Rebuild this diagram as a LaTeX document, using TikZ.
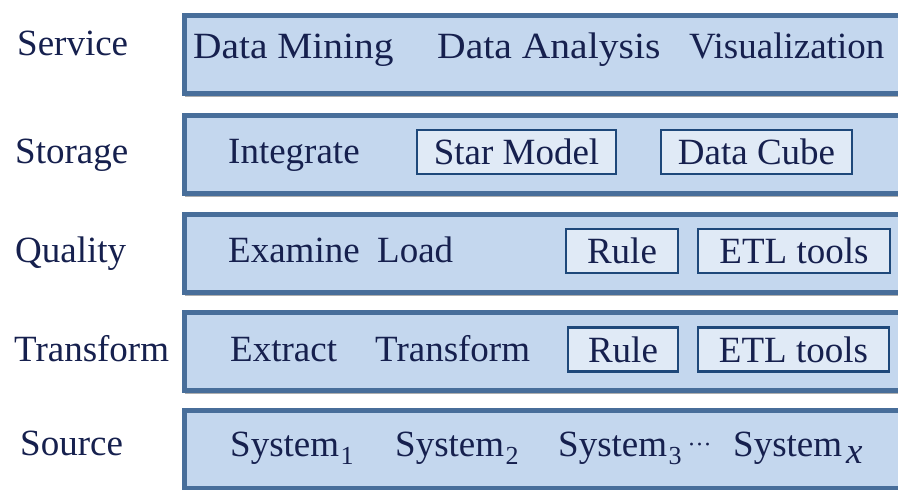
\documentclass[tikz,border=0pt]{standalone}
\usepackage{fontspec}
\setmainfont{Liberation Serif}
\usetikzlibrary{shadows}
\definecolor{bandfill}{RGB}{196,215,238}
\definecolor{bandline}{RGB}{72,110,154}
\definecolor{boxline}{RGB}{30,72,122}
\definecolor{boxfill}{RGB}{224,234,246}
\definecolor{txt}{RGB}{22,32,78}
\newcommand{\mysub}[1]{\kern1.5pt\raisebox{-0.22em}{\fontsize{26}{26}\selectfont #1}}
\tikzset{
  band/.style={draw=bandline, line width=5pt, fill=bandfill, rectangle, anchor=north west,
    minimum width=740pt, minimum height=78pt, inner sep=0pt,
    drop shadow={shadow xshift=1pt, shadow yshift=-4pt, opacity=0.45, fill=black!70}},
  lbl/.style={font=\fontsize{37}{40}\selectfont, text=txt, inner sep=0pt, anchor=base west},
  ibox/.style={draw=boxline, line width=2.5pt, fill=boxfill, rectangle, inner sep=0pt,
    minimum height=44pt, font=\fontsize{37}{40}\selectfont, text=txt}
}
\begin{document}
\begin{tikzpicture}[x=1pt,y=-1pt]
\useasboundingbox (0,0) rectangle (898,490);
\clip (0,0) rectangle (898,490);
\fill[white] (0,0) rectangle (898,490);
% bands
\node[band] (svc) at (181.5,12.5) {};
\node[band] (sto) at (181.5,112.5) {};
\node[band] (qua) at (181.5,211.5) {};
\node[band] (tra) at (181.5,309.5) {};
\node[band] (src) at (181.5,407.5) {};
% left labels
\node[lbl] (lsvc) at (17,55) {Service};
\node[lbl] (lsto) at (15,163) {Storage};
\node[lbl] (lqua) at (15,262) {Quality};
\node[lbl] (ltra) at (14,361) {Transform};
\node[lbl] (lsrc) at (20,455) {Source};
% service row
\node[lbl] (dm) at (193,58) {\scalebox{1.065}[1]{Data Mining}};
\node[lbl] (da) at (437,58) {\scalebox{1.07}[1]{Data Analysis}};
\node[lbl] (vis) at (689,58) {Visualization};
% storage row
\node[lbl] (integ) at (228,163) {Integrate};
\node[ibox, minimum width=199pt] (star) at (516.5,152) {Star Model};
\node[ibox, minimum width=191pt] (cube) at (756.5,152) {Data Cube};
% quality row
\node[lbl] (exam) at (228,262) {Examine};
\node[lbl] (load) at (377,262) {Load};
\node[ibox, minimum width=112pt] (qrule) at (622,251) {Rule};
\node[ibox, minimum width=192pt] (qetl) at (794,251) {ETL tools};
% transform row
\node[lbl] (extr) at (230,361) {Extract};
\node[lbl] (trans) at (375,361) {Transform};
\node[ibox, minimum width=110pt] (trule) at (623,349.5) {Rule};
\node[ibox, minimum width=191pt] (tetl) at (793.5,349.5) {ETL tools};
% source row
\node[lbl] (s1) at (230,456) {System\mysub{1}};
\node[lbl] (s2) at (395,456) {System\mysub{2}};
\node[lbl] (s3) at (558,456) {System\mysub{3}\kern6pt\raisebox{0.1em}{\fontsize{24}{24}\selectfont ···}};
\node[lbl] (sx) at (733,456) {System\kern4pt\raisebox{-0.2em}{\itshape\fontsize{37}{37}\selectfont x}};
\end{tikzpicture}
\end{document}
